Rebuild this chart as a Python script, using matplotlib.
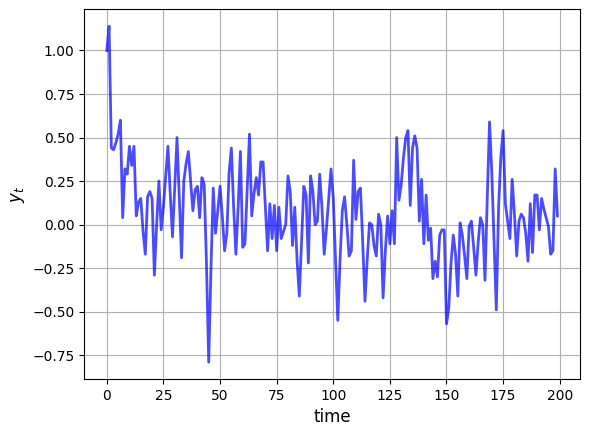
import numpy as np
import matplotlib
matplotlib.use("Agg")
import matplotlib.pyplot as plt

# series, one value per time step
y_t = [
    1.00, 1.14, 0.44, 0.43, 0.47, 0.52, 0.60, 0.04, 0.32, 0.29,
    0.45, 0.34, 0.45, 0.05, 0.13, 0.15, -0.04, -0.17, 0.16, 0.19,
    0.15, -0.29, 0.00, 0.25, -0.03, 0.10, 0.28, 0.45, 0.18, -0.07,
    0.22, 0.50, 0.15, -0.19, 0.25, 0.35, 0.42, 0.25, 0.08, 0.20,
    0.22, 0.04, 0.27, 0.23, -0.22, -0.79, -0.25, 0.21, -0.05, 0.08,
    0.22, 0.05, -0.15, -0.05, 0.30, 0.44, 0.10, -0.17, 0.10, 0.42,
    -0.13, -0.11, 0.20, 0.52, 0.05, 0.18, 0.27, 0.17, 0.36, 0.36,
    0.10, -0.15, 0.12, -0.08, 0.11, -0.15, 0.10, -0.08, -0.04, 0.00,
    0.28, 0.19, -0.12, 0.10, -0.20, -0.41, -0.10, 0.22, 0.17, -0.22,
    0.28, 0.19, 0.00, 0.02, 0.29, 0.10, -0.17, -0.02, 0.15, 0.32,
    0.15, -0.20, -0.55, -0.20, 0.08, 0.16, 0.00, -0.18, -0.15, 0.37,
    0.03, 0.19, 0.21, -0.10, -0.44, -0.20, 0.01, 0.00, -0.12, -0.18,
    0.06, 0.00, -0.42, -0.15, 0.05, -0.11, 0.08, -0.11, 0.50, 0.14,
    0.23, 0.385, 0.50, 0.54, 0.11, 0.44, 0.51, 0.44, 0.02, 0.26,
    -0.11, 0.17, -0.09, -0.02, -0.31, -0.21, -0.30, -0.06, -0.03, -0.03,
    -0.57, -0.48, -0.22, -0.06, -0.17, -0.41, 0.01, -0.06, -0.18, -0.31,
    -0.01, 0.02, -0.13, -0.29, -0.10, 0.04, 0.00, -0.32, 0.15, 0.59,
    0.30, -0.10, -0.49, 0.10, 0.39, 0.54, 0.12, 0.02, -0.08, 0.26,
    0.06, -0.18, 0.02, 0.06, 0.04, -0.05, -0.21, 0.12, -0.16, 0.17,
    0.17, -0.03, 0.15, 0.09, 0.04, -0.01, -0.17, -0.15, 0.32, 0.05,
]
time = np.arange(len(y_t))

fig = plt.figure(figsize=(5.89, 4.33), dpi=100)
ax = fig.add_axes([0.1431, 0.1247, 0.8416, 0.8538])

ax.plot(time, y_t, color='blue', alpha=0.7, linewidth=2)
ax.set_xlabel('time', fontsize=12)
ax.set_ylabel('$y_t$', fontsize=12)
ax.grid(True)

fig.savefig('out.png', dpi=100)
